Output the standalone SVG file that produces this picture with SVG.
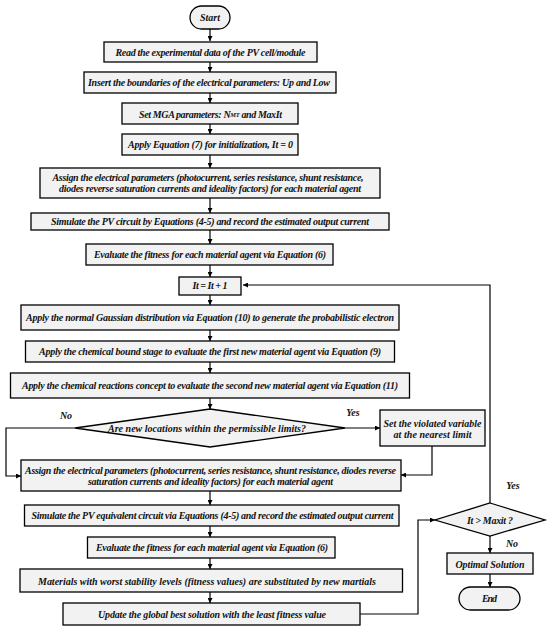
<svg xmlns="http://www.w3.org/2000/svg" width="550" height="632" viewBox="0 0 550 632">
<defs>
<marker id="ah" viewBox="0 0 10 10" refX="10" refY="5" markerWidth="5" markerHeight="5" orient="auto" markerUnits="userSpaceOnUse">
<path d="M0,0 L10,5 L0,10 z" fill="#000"/>
</marker>
<style>
.b{fill:#f2f2f2;stroke:#000;stroke-width:1.3}
.t{font-family:"Liberation Serif","DejaVu Serif","Times New Roman",serif;font-style:italic;font-weight:bold;font-size:10px;fill:#111;text-anchor:middle;dominant-baseline:central}
.c{fill:none;stroke:#000;stroke-width:1.2;marker-end:url(#ah)}
</style>
</defs>
<rect width="550" height="632" fill="#fff"/>
<g id="connectors">
<path class="c" d="M210,29 V41"/>
<path class="c" d="M210,62 V72"/>
<path class="c" d="M210,93 V103"/>
<path class="c" d="M210,124 V134"/>
<path class="c" d="M210,155 V168"/>
<path class="c" d="M210,198 V213"/>
<path class="c" d="M210,230 V244"/>
<path class="c" d="M210,265 V277"/>
<path class="c" d="M210,295 V305"/>
<path class="c" d="M210,330 V341"/>
<path class="c" d="M210,362 V373"/>
<path class="c" d="M210,398 V409"/>
<path class="c" d="M75,428 H6 V476 H21"/>
<path class="c" d="M345,428 H380"/>
<path class="c" d="M432,446 V475 H401"/>
<path class="c" d="M210,491 V505"/>
<path class="c" d="M210,526 V537"/>
<path class="c" d="M210,558 V569"/>
<path class="c" d="M210,592 V603"/>
<path class="c" d="M360,614 H418 V520 H435"/>
<path class="c" d="M490,503 V285 H243"/>
<path class="c" d="M490,536 V553"/>
<path class="c" d="M490,574 V587"/>
</g>
<g id="start"><rect class="b" x="190" y="6" width="40" height="23" rx="11.5"/><text class="t" x="210" y="17.5" textLength="20">Start</text></g>
<g id="n1"><rect class="b" x="104" y="42" width="213" height="20"/><text class="t" x="210.5" y="52" textLength="190">Read the experimental data of the PV cell/module</text></g>
<g id="n2"><rect class="b" x="84" y="72" width="252" height="21"/><text class="t" x="209" y="82.5" textLength="242">Insert the boundaries of the electrical parameters:  Up and Low</text></g>
<g id="n3"><rect class="b" x="122" y="103" width="176" height="21"/><text class="t" x="210.5" y="114" textLength="143">Set MGA parameters: N<tspan font-size="6.5">MT</tspan> and MaxIt</text></g>
<g id="n4"><rect class="b" x="122" y="134" width="176" height="21"/><text class="t" x="210.5" y="144.5" textLength="165">Apply Equation (7) for initialization, It = 0</text></g>
<g id="n5"><rect class="b" x="40" y="168" width="340" height="30"/><text class="t" x="208" y="177.7" textLength="311">Assign the electrical parameters (photocurrent, series resistance, shunt resistance,</text><text class="t" x="210" y="188.5" textLength="302">diodes reverse saturation currents and ideality factors) for each material agent</text></g>
<g id="n6"><rect class="b" x="31" y="213" width="358" height="17"/><text class="t" x="210" y="221.7" textLength="318">Simulate the PV circuit by Equations (4-5) and record the estimated output current</text></g>
<g id="n7"><rect class="b" x="86" y="244" width="247" height="21"/><text class="t" x="210" y="254.5" textLength="232">Evaluate the fitness for each material agent via Equation (6)</text></g>
<g id="n8"><rect class="b" x="179" y="277" width="62" height="18"/><text class="t" x="210" y="285.5" textLength="35">It = It + 1</text></g>
<g id="n9"><rect class="b" x="21" y="305" width="378" height="25"/><text class="t" x="210" y="317.7" textLength="368">Apply the normal Gaussian distribution via Equation (10) to generate the probabilistic electron</text></g>
<g id="n10"><rect class="b" x="25.5" y="341" width="369" height="21"/><text class="t" x="210" y="351.5" textLength="342">Apply the chemical bound stage to evaluate the first new material agent via Equation (9)</text></g>
<g id="n11"><rect class="b" x="10.5" y="373" width="399" height="25"/><text class="t" x="210" y="385.3" textLength="376">Apply the chemical reactions concept to evaluate the second new material agent via Equation (11)</text></g>
<g id="d1"><polygon class="b" points="210,409 345,428 210,447 75,428"/><text class="t" x="207" y="428.3" textLength="198">Are new locations within the permissible limits?</text></g>
<text class="t" x="66" y="415">No</text>
<text class="t" x="353" y="412">Yes</text>
<g id="setbox"><rect class="b" x="380" y="410" width="105" height="36"/><text class="t" x="432.5" y="423" textLength="98">Set the violated variable</text><text class="t" x="432.5" y="434.5" textLength="78">at the nearest limit</text></g>
<g id="n12"><rect class="b" x="21" y="460" width="380" height="31"/><text class="t" x="210.5" y="470.7" textLength="371">Assign the electrical parameters (photocurrent, series resistance, shunt resistance, diodes reverse</text><text class="t" x="210.5" y="481.7" textLength="245">saturation currents and ideality factors) for each material agent</text></g>
<g id="n13"><rect class="b" x="24.5" y="505" width="374.5" height="21"/><text class="t" x="212.5" y="515.3" textLength="362">Simulate the PV equivalent circuit via Equations (4-5) and record the estimated output current</text></g>
<g id="n14"><rect class="b" x="87.5" y="537" width="247.5" height="21"/><text class="t" x="212" y="547.7" textLength="232">Evaluate the fitness for each material agent via Equation (6)</text></g>
<g id="n15"><rect class="b" x="20" y="569" width="382.5" height="23"/><text class="t" x="207" y="581" textLength="338">Materials with worst stability levels (fitness values) are substituted by new martials</text></g>
<g id="n16"><rect class="b" x="63" y="603" width="297" height="22"/><text class="t" x="212" y="614.3" textLength="228">Update the global best solution with the least fitness value</text></g>
<g id="d2"><polygon class="b" points="490,503 545,520 490,536 435,520"/><text class="t" x="490" y="520" textLength="46">It &gt; Maxit ?</text></g>
<text class="t" x="513" y="485">Yes</text>
<text class="t" x="512" y="543">No</text>
<g id="opt"><rect class="b" x="447" y="553" width="86" height="21"/><text class="t" x="490" y="564" textLength="69">Optimal Solution</text></g>
<g id="end"><rect class="b" x="459" y="587" width="61" height="23" rx="11.5"/><text class="t" x="489.5" y="598.5" textLength="15">End</text></g>
</svg>
